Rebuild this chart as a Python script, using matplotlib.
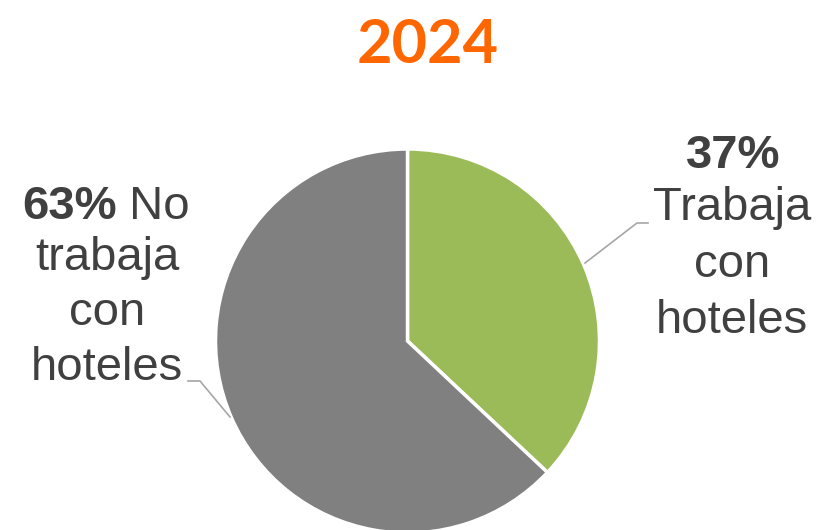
import matplotlib
matplotlib.use("Agg")
import matplotlib.pyplot as plt

# ----------------------------
# Data
# ----------------------------
year_title = "2024"
shares = [37, 63]
share_labels = ["Trabaja con hoteles", "No trabaja con hoteles"]
slice_colors = ["#9BBB59", "#808080"]

W, H = 818, 530
TEXT_COLOR = "#404040"
LINE_COLOR = "#A6A6A6"
FONT = "Liberation Sans"
FS = 34


def py(y):
    # pixel row (from top) -> data y
    return H - y


fig = plt.figure(figsize=(W / 100, H / 100), dpi=100)
ax = fig.add_axes([0, 0, 1, 1])

wedges, _ = ax.pie(shares, colors=slice_colors, startangle=90, counterclock=False,
                   center=(407.5, py(341)), radius=192,
                   wedgeprops=dict(edgecolor="white", linewidth=2.5))
ax.set_xlim(0, W)
ax.set_ylim(0, H)
ax.set_aspect("equal")
ax.axis("off")

# title
ax.text(428, py(63), year_title, ha="center", va="baseline", fontsize=44,
        fontweight="bold", color="#FF6600", family="Lato")

# leader lines
ax.plot([188, 200, 230], [py(381), py(381), py(417)], color=LINE_COLOR, lw=1.2)
ax.plot([585, 637, 648], [py(263), py(223), py(223)], color=LINE_COLOR, lw=1.2)


def mixed_line(cx, y, bold_part, rest):
    # bold percentage followed by regular text, centred on cx as one line
    renderer = fig.canvas.get_renderer()
    t1 = ax.text(0, py(y), bold_part, fontsize=FS, fontweight="bold", family=FONT,
                 color=TEXT_COLOR, va="baseline", ha="left")
    t2 = ax.text(0, py(y), rest, fontsize=FS, family=FONT,
                 color=TEXT_COLOR, va="baseline", ha="left")
    w1 = t1.get_window_extent(renderer).width
    w2 = t2.get_window_extent(renderer).width
    x0 = cx - (w1 + w2) / 2
    t1.set_x(x0)
    t2.set_x(x0 + w1)


def plain_line(cx, y, s, bold=False):
    ax.text(cx, py(y), s, fontsize=FS, fontweight="bold" if bold else "normal",
            family=FONT, color=TEXT_COLOR, va="baseline", ha="center")


# left label: no hotels
mixed_line(106, 219, f"{shares[1]}%", " No")
for s, y in zip(["trabaja", "con", "hoteles"], [270, 325, 380]):
    plain_line(107, y, s)

# right label: hotels
plain_line(733, 168, f"{shares[0]}%", bold=True)
for s, y in zip(["Trabaja", "con", "hoteles"], [220, 277, 333]):
    plain_line(732, y, s)

fig.savefig("out.png", dpi=100, facecolor="white")
